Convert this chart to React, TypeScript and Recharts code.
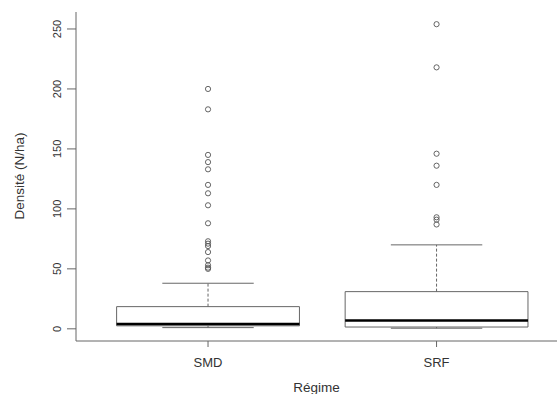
import {
  ComposedChart,
  XAxis,
  YAxis,
  Scatter,
  ReferenceArea,
  ReferenceLine,
} from "recharts";

// Boxplot of tree density by regime.
const groups = ["SMD", "SRF"];
const lowerWhisker = [1, 0.5];
const q1 = [2.5, 1.5];
const median = [4, 7];
const q3 = [18.5, 31];
const upperWhisker = [38, 70];
const outliersSMD = [200, 183, 145, 139, 133, 120, 113, 103, 88, 73, 71, 69, 64, 57, 53, 51, 50];
const outliersSRF = [254, 218, 146, 136, 120, 93, 91, 87];
const yTicks = [0, 50, 100, 150, 200, 250];

const X_DOMAIN = [0.4223, 2.527];
const Y_DOMAIN = [-10.16, 264.16];

const outliers = [
  ...outliersSMD.map((y) => ({ x: 1, y })),
  ...outliersSRF.map((y) => ({ x: 2, y })),
];

const LINE = "#666";
const TEXT = "#333";
const FONT = "Liberation Sans, Arial, sans-serif";

const YTick = (props: any) => {
  const { x, y, payload } = props;
  const tx = x - 2;
  return (
    <text
      x={tx}
      y={y}
      transform={`rotate(-90 ${tx} ${y})`}
      textAnchor="middle"
      fontSize={11}
      fill={TEXT}
      fontFamily={FONT}
    >
      {payload.value}
    </text>
  );
};

const Circle = (props: any) => (
  <circle cx={props.cx} cy={props.cy} r={2.6} fill="none" stroke="#555" strokeWidth={0.9} />
);

export default function App() {
  return (
    <div style={{ position: "absolute", left: 0, top: 0, width: 557, height: 394, background: "#fff" }}>
      <ComposedChart
        width={557}
        height={394}
        margin={{ top: 12, right: 0, bottom: 0, left: 0 }}
        style={{ fontFamily: FONT }}
      >
        <XAxis
          type="number"
          dataKey="x"
          domain={X_DOMAIN}
          ticks={[1, 2]}
          allowDataOverflow
          tickFormatter={(v: number) => groups[v - 1]}
          height={53}
          tickSize={6}
          tickMargin={11}
          stroke={LINE}
          tick={{ fill: TEXT, fontSize: 13 }}
          label={{
            value: "Régime",
            position: "insideBottom",
            offset: 2,
            fill: TEXT,
            fontSize: 13.5,
          }}
        />
        {/* top edge of the R plot frame */}
        <XAxis
          xAxisId="top"
          orientation="top"
          type="number"
          domain={X_DOMAIN}
          allowDataOverflow
          height={0}
          tick={false}
          tickLine={false}
          stroke={LINE}
        />
        <YAxis
          type="number"
          dataKey="y"
          domain={Y_DOMAIN}
          ticks={yTicks}
          allowDataOverflow
          width={76}
          tickSize={9}
          tickMargin={4}
          stroke={LINE}
          tick={<YTick />}
          label={{
            content: () => {
              const cx = 24;
              const cy = 176;
              return (
                <text
                  x={cx}
                  y={cy}
                  transform={`rotate(-90 ${cx} ${cy})`}
                  textAnchor="middle"
                  fontSize={13.5}
                  fill={TEXT}
                  fontFamily={FONT}
                >
                  Densité (N/ha)
                </text>
              );
            },
          }}
        />
        {groups.map((g, i) => {
          const c = i + 1;
          return [
            <ReferenceLine
              key={g + "wu"}
              segment={[{ x: c, y: q3[i] }, { x: c, y: upperWhisker[i] }]}
              stroke={LINE}
              strokeDasharray="3 2"
            />,
            <ReferenceLine
              key={g + "cu"}
              segment={[{ x: c - 0.2, y: upperWhisker[i] }, { x: c + 0.2, y: upperWhisker[i] }]}
              stroke={LINE}
            />,
            <ReferenceLine
              key={g + "wl"}
              segment={[{ x: c, y: q1[i] }, { x: c, y: lowerWhisker[i] }]}
              stroke={LINE}
              strokeDasharray="3 2"
            />,
            <ReferenceLine
              key={g + "cl"}
              segment={[{ x: c - 0.2, y: lowerWhisker[i] }, { x: c + 0.2, y: lowerWhisker[i] }]}
              stroke={LINE}
            />,
            <ReferenceArea
              key={g + "box"}
              x1={c - 0.4}
              x2={c + 0.4}
              y1={q1[i]}
              y2={q3[i]}
              fill="#fff"
              fillOpacity={1}
              stroke={LINE}
            />,
            <ReferenceLine
              key={g + "med"}
              segment={[{ x: c - 0.4, y: median[i] }, { x: c + 0.4, y: median[i] }]}
              stroke="#000"
              strokeWidth={2.5}
            />,
          ];
        })}
        <Scatter data={outliers} shape={<Circle />} isAnimationActive={false} />
      </ComposedChart>
    </div>
  );
}
